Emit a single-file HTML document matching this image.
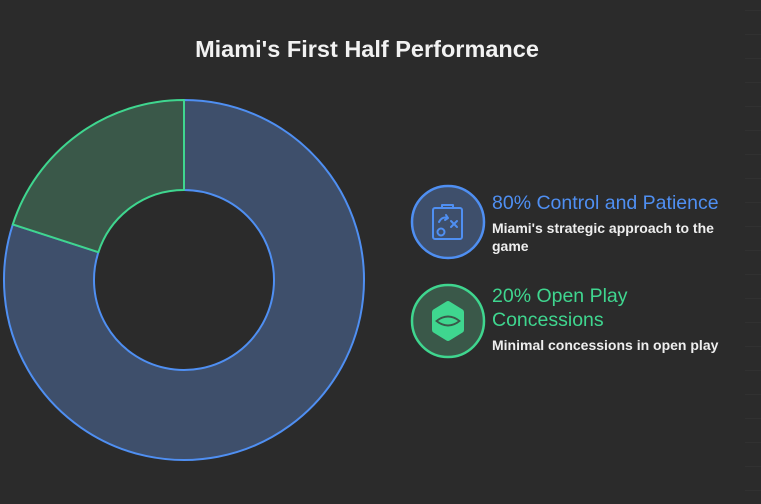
<!DOCTYPE html>
<html><head><meta charset="utf-8"><style>
html,body{margin:0;padding:0;background:#2b2b2b;width:761px;height:504px;overflow:hidden;font-family:"Liberation Sans",Roboto,sans-serif}
</style></head><body>
<svg width="761" height="504" viewBox="0 0 761 504" xmlns="http://www.w3.org/2000/svg" style="position:absolute;left:0;top:0">
<rect width="761" height="504" fill="#2b2b2b"/>
<g stroke="#313131" stroke-width="1">
<line x1="745" y1="10.5" x2="761" y2="10.5"/><line x1="745" y1="34.5" x2="761" y2="34.5"/><line x1="745" y1="58.5" x2="761" y2="58.5"/><line x1="745" y1="82.5" x2="761" y2="82.5"/><line x1="745" y1="106.5" x2="761" y2="106.5"/><line x1="745" y1="130.5" x2="761" y2="130.5"/><line x1="745" y1="154.5" x2="761" y2="154.5"/><line x1="745" y1="178.5" x2="761" y2="178.5"/><line x1="745" y1="202.5" x2="761" y2="202.5"/><line x1="745" y1="226.5" x2="761" y2="226.5"/><line x1="745" y1="250.5" x2="761" y2="250.5"/><line x1="745" y1="274.5" x2="761" y2="274.5"/><line x1="745" y1="298.5" x2="761" y2="298.5"/><line x1="745" y1="322.5" x2="761" y2="322.5"/><line x1="745" y1="346.5" x2="761" y2="346.5"/><line x1="745" y1="370.5" x2="761" y2="370.5"/><line x1="745" y1="394.5" x2="761" y2="394.5"/><line x1="745" y1="418.5" x2="761" y2="418.5"/><line x1="745" y1="442.5" x2="761" y2="442.5"/><line x1="745" y1="466.5" x2="761" y2="466.5"/><line x1="745" y1="490.5" x2="761" y2="490.5"/>
</g>
<text x="367" y="57" text-anchor="middle" fill="#f2f2f2" font-size="23.5" font-weight="bold">Miami's First Half Performance</text>
<path d="M184,100 A180,180 0 1 1 12.8,224.4 L98.4,252.2 A90,90 0 1 0 184,190 Z" fill="#3e4f6b" stroke="#4f8ff2" stroke-width="2" stroke-linejoin="round"/>
<path d="M12.8,224.4 A180,180 0 0 1 184,100 L184,190 A90,90 0 0 0 98.4,252.2 Z" fill="#3a5849" stroke="#3fd68f" stroke-width="2" stroke-linejoin="round"/>
<circle cx="448" cy="222" r="36" fill="#3e4f6b" stroke="#4f8ff2" stroke-width="2.5"/>
<g fill="none" stroke="#4f8ff2" stroke-width="2" stroke-linecap="round" stroke-linejoin="round">
<rect x="433" y="208" width="29" height="31" rx="2"/>
<path d="M442,208 v-3 h11 v3"/>
<circle cx="441" cy="232" r="3.5"/>
<path d="M439,222 q3,-6 9,-4 M446,215 l2,3 -3,2"/>
<path d="M451,221 l6,6 M457,221 l-6,6"/>
</g>
<circle cx="448" cy="321" r="36" fill="#3a5849" stroke="#3fd68f" stroke-width="2.5"/>
<path d="M448,304 L461,312 L461,330 L448,338 L435,330 L435,312 Z" fill="#3fd68f" stroke="#3fd68f" stroke-width="6" stroke-linejoin="round"/>
<path d="M435,321 Q448,310 461,321 Q448,332 435,321 Z" fill="#3a5849"/>
<path d="M438,321 Q448,314 458,321 Q448,328 438,321 Z" fill="#3fd68f"/>
<text x="492" y="209" fill="#4f8ff2" font-size="19.5">80% Control and Patience</text>
<text x="492" y="233" fill="#eeeeee" font-size="14" font-weight="bold">Miami's strategic approach to the</text>
<text x="492" y="251" fill="#eeeeee" font-size="14" font-weight="bold">game</text>
<text x="492" y="302" fill="#3fd68f" font-size="19.5">20% Open Play</text>
<text x="492" y="326" fill="#3fd68f" font-size="19.5">Concessions</text>
<text x="492" y="350" fill="#eeeeee" font-size="14" font-weight="bold">Minimal concessions in open play</text>
</svg>
</body></html>
